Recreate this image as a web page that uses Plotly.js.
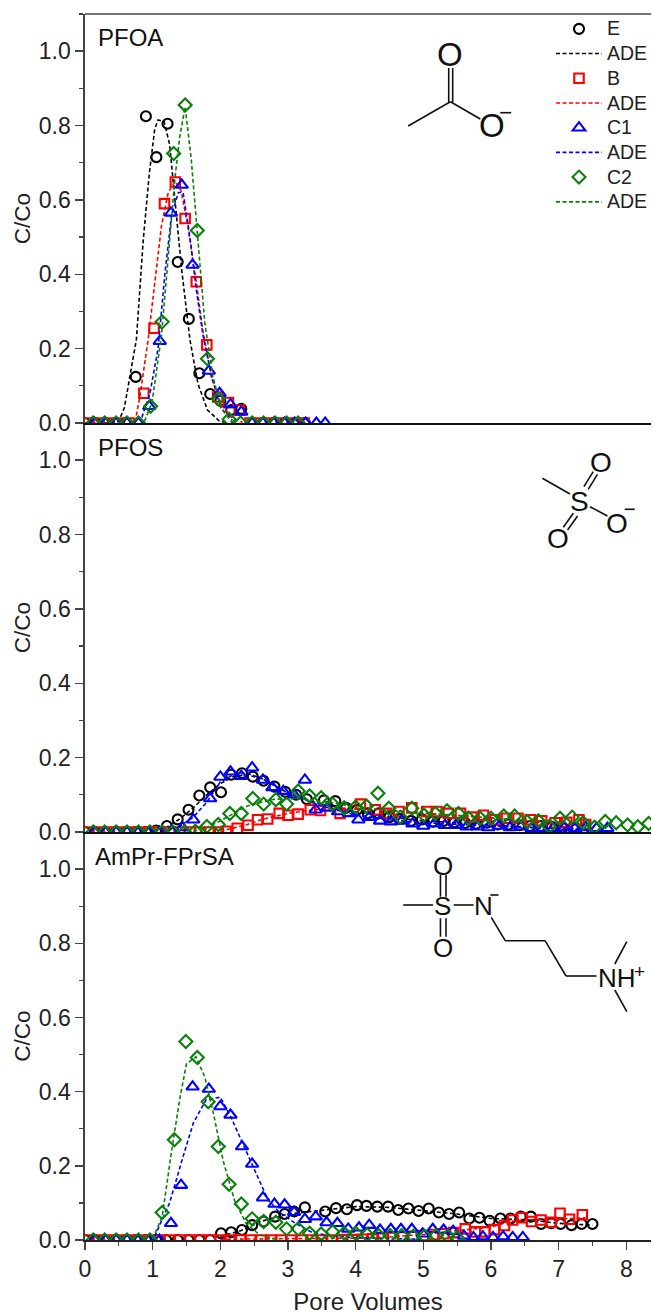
<!DOCTYPE html>
<html><head><meta charset="utf-8">
<script src="https://cdn.plot.ly/plotly-3.0.1.min.js"></script>
<style>html,body{margin:0;padding:0;background:#fff}</style></head>
<body><div id="chart" style="width:653px;height:1315px"></div>
<script>
// Data: [pore volumes, C/Co]
const pfoaE=[[0,0],[.15,0],[.3,0],[.45,0],[.6,0],[.75,.124],[.9,.825],[1.055,.715],[1.22,.805],[1.37,.433],[1.535,.28],[1.69,.134],[1.85,.078],[2,.06],[2.16,.035],[2.31,.038],[2.47,0],[2.63,0],[2.79,0],[2.95,0],[3.1,0],[3.25,0]];
const pfoaB=[[.05,0],[.2,0],[.35,0],[.5,0],[.65,0],[.87,.08],[1.02,.255],[1.175,.59],[1.335,.648],[1.48,.55],[1.645,.38],[1.8,.21],[1.96,.07],[2.12,.055],[2.28,.035],[2.44,0],[2.6,0],[2.76,0],[2.92,0],[3.08,0],[3.24,0]];
const pfoaC1=[[.14,0],[.3,0],[.46,0],[.62,0],[.79,0],[.95,.045],[1.105,.22],[1.27,.565],[1.43,.64],[1.59,.425],[1.83,.14],[1.99,.08],[2.15,.05],[2.31,.03],[2.47,0],[2.63,0],[2.79,0],[2.95,0],[3.1,0],[3.26,0],[3.42,0],[3.55,0]];
const pfoaC2=[[.12,0],[.29,0],[.46,0],[.62,0],[.79,0],[.97,.045],[1.14,.272],[1.31,.725],[1.48,.855],[1.66,.518],[1.81,.173],[1.97,.065],[2.13,.01],[2.3,0],[2.47,0],[2.64,0],[2.81,0],[2.98,0],[3.15,0]];
const pfoaEfit=[[0,0],[.45,0],[.5,.005],[.58,.04],[.62,.08],[.76,.225],[.86,.49],[.95,.67],[1.03,.79],[1.08,.815],[1.17,.81],[1.25,.75],[1.34,.58],[1.43,.41],[1.55,.225],[1.67,.105],[1.81,.035],[1.98,.006],[2.1,0]];
const pfoaBfit=[[.74,.003],[.81,.07],[.93,.22],[1.03,.37],[1.13,.53],[1.23,.62],[1.33,.65],[1.42,.625],[1.52,.53],[1.64,.385],[1.74,.25],[1.87,.125],[2.01,.05],[2.18,.012],[2.33,.002]];
const pfoaC1fit=[[.84,.015],[.96,.08],[1.08,.2],[1.18,.4],[1.28,.56],[1.38,.62],[1.45,.62],[1.55,.5],[1.64,.365],[1.74,.24],[1.87,.125],[2.01,.04],[2.18,.007]];
const pfoaC2fit=[[.88,.005],[.99,.055],[1.13,.235],[1.23,.45],[1.33,.66],[1.4,.77],[1.48,.85],[1.57,.71],[1.67,.5],[1.77,.27],[1.89,.125],[2.01,.04],[2.18,0]];

const pfosE=[[0,0],[.15,0],[.3,0],[.45,0],[.6,0],[.75,0],[.9,0],[1.05,.004],[1.21,.016],[1.37,.034],[1.53,.06],[1.69,.098],[1.85,.12],[2.01,.107],[2.16,.154],[2.32,.158],[2.48,.149],[2.64,.138],[2.8,.122],[2.96,.108],[3.12,.1],[3.28,.088],[3.53,.085],[3.7,.083],[3.86,.065],[4.02,.06],[4.18,.05],[4.34,.05],[4.5,.04],[4.66,.035],[4.82,.03],[4.98,.034],[5.14,.028],[5.3,.03],[5.46,.026],[5.62,.024],[5.78,.022],[5.94,.025],[6.1,.02],[6.26,.02],[6.42,.018],[6.58,.016],[6.74,.016],[6.9,.014],[7.06,.012],[7.22,.012],[7.38,.01]];
const pfosB=[[.05,0],[.2,0],[.35,0],[.5,0],[.65,0],[.8,0],[.95,0],[1.1,0],[1.25,0],[1.4,0],[1.55,0],[1.7,0],[1.85,0],[1.97,0],[2.09,.002],[2.25,.01],[2.41,.018],[2.55,.033],[2.7,.035],[2.87,.05],[3,.045],[3.15,.048],[3.33,.06],[3.48,.058],[3.77,.05],[4.07,.075],[4.29,.06],[4.46,.05],[4.64,.055],[4.83,.065],[5.05,.055],[5.2,.055],[5.37,.05],[5.55,.05],[5.72,.04],[5.89,.045],[6.06,.033],[6.23,.037],[6.4,.037],[6.58,.033],[6.75,.03],[6.95,.025],[7.12,.026],[7.3,.033],[7.4,.02]];
const pfosC1=[[.14,0],[.3,0],[.46,0],[.62,0],[.79,0],[.95,0],[1.1,0],[1.28,.004],[1.44,.012],[1.6,.033],[1.85,.09],[2,.148],[2.15,.162],[2.31,.15],[2.47,.173],[2.63,.14],[2.77,.12],[2.93,.11],[3.09,.1],[3.25,.14],[3.41,.06],[3.58,.065],[3.74,.055],[3.9,.05],[4.04,.033],[4.2,.04],[4.36,.03],[4.52,.028],[4.68,.03],[4.84,.022],[5,.016],[5.16,.022],[5.32,.018],[5.48,.018],[5.64,.014],[5.8,.014],[5.96,.012],[6.12,.016],[6.28,.012],[6.44,.014],[6.6,.01],[6.76,.01],[6.92,.01],[7.08,.012],[7.24,.01],[7.4,.012],[7.56,.01],[7.72,.01]];
const pfosC2=[[.12,0],[.29,0],[.46,0],[.62,0],[.79,0],[.96,0],[1.14,0],[1.3,0],[1.47,0],[1.63,.002],[1.8,.015],[1.97,.02],[2.14,.05],[2.31,.05],[2.48,.09],[2.64,.075],[2.82,.087],[2.98,.075],[3.15,.11],[3.32,.097],[3.49,.092],[3.66,.075],[3.83,.065],[4,.067],[4.16,.07],[4.33,.104],[4.49,.064],[4.66,.04],[4.83,.064],[5.01,.046],[5.18,.05],[5.35,.057],[5.52,.05],[5.67,.037],[5.84,.037],[6,.037],[6.19,.043],[6.35,.043],[6.53,.028],[6.7,.03],[6.86,.015],[7.02,.037],[7.2,.04],[7.36,.025],[7.53,.013],[7.69,.028],[7.85,.025],[8.02,.019],[8.17,.014],[8.33,.023]];
const pfosEfit=[[1,.002],[1.2,.012],[1.4,.035],[1.6,.065],[1.8,.1],[2,.13],[2.2,.15],[2.4,.153],[2.6,.145],[2.8,.125],[3,.105],[3.2,.09],[3.5,.075],[4,.055],[4.5,.04],[5,.03],[5.5,.024],[6,.018],[6.5,.013],[7,.009],[7.5,.006]];
const pfosBfit=[[2,.002],[2.2,.01],[2.4,.02],[2.6,.033],[2.8,.042],[3,.05],[3.3,.058],[3.6,.063],[4,.063],[4.5,.058],[5,.05],[5.5,.045],[6,.038],[6.5,.03],[7,.024],[7.4,.018]];
const pfosC1fit=[[1.2,.003],[1.4,.015],[1.6,.04],[1.8,.08],[2,.135],[2.2,.155],[2.4,.158],[2.6,.145],[2.8,.125],[3,.105],[3.2,.09],[3.5,.07],[4,.045],[4.5,.033],[5,.025],[5.5,.02],[6,.015],[6.5,.012],[7,.01],[7.5,.008]];
const pfosC2fit=[[1.6,.002],[1.8,.012],[2,.03],[2.2,.05],[2.4,.07],[2.6,.08],[2.8,.088],[3,.09],[3.3,.088],[3.6,.08],[4,.068],[4.5,.058],[5,.05],[5.5,.045],[6,.037],[6.5,.032],[7,.028],[7.5,.022]];

const amprE=[[0,0],[.15,0],[.3,0],[.45,0],[.6,0],[.75,0],[.9,0],[1.05,0],[1.2,0],[1.37,0],[1.53,0],[1.69,0],[1.85,0],[2.01,.018],[2.16,.021],[2.32,.027],[2.47,.04],[2.64,.05],[2.81,.063],[2.95,.07],[3.09,.077],[3.25,.088],[3.55,.077],[3.71,.086],[3.87,.083],[4.02,.094],[4.16,.092],[4.32,.09],[4.48,.09],[4.63,.081],[4.78,.085],[4.93,.078],[5.08,.085],[5.23,.074],[5.38,.07],[5.53,.074],[5.68,.058],[5.83,.06],[5.98,.052],[6.14,.058],[6.29,.058],[6.44,.063],[6.59,.063],[6.74,.043],[6.89,.045],[7.03,.043],[7.19,.04],[7.34,.043],[7.5,.043]];
const amprB=[[.05,0],[.2,0],[.35,0],[.5,0],[.65,0],[.8,0],[.95,0],[1.1,0],[1.25,0],[1.4,0],[1.55,0],[1.7,0],[1.85,0],[2,0],[2.15,0],[2.3,0],[2.45,0],[2.6,0],[2.75,0],[2.9,0],[3.05,0],[3.2,0],[3.35,0],[3.5,0],[3.65,0],[3.8,.001],[3.95,.001],[4.1,.002],[4.25,.003],[4.4,.005],[4.55,.007],[4.7,.008],[4.85,.01],[5,.012],[5.15,.015],[5.3,.017],[5.45,.02],[5.62,.03],[5.77,.022],[5.91,.022],[6.05,.028],[6.2,.039],[6.32,.054],[6.46,.06],[6.6,.05],[6.74,.054],[6.89,.048],[7.02,.072],[7.16,.056],[7.35,.068]];
const amprC1=[[.14,0],[.3,0],[.46,0],[.62,0],[.79,0],[.95,0],[1.1,0],[1.27,.045],[1.42,.148],[1.59,.413],[1.83,.407],[2,.36],[2.15,.337],[2.32,.252],[2.47,.205],[2.63,.114],[2.8,.097],[2.95,.095],[3.09,.075],[3.25,.056],[3.41,.063],[3.57,.047],[3.73,.045],[3.89,.03],[4.05,.033],[4.2,.04],[4.36,.027],[4.52,.029],[4.67,.029],[4.83,.029],[4.99,.017],[5.14,.029],[5.3,.027],[5.44,.024],[5.6,.011],[5.74,.007],[5.88,.009],[6.03,.007],[6.18,.009],[6.32,.007],[6.47,.007]];
const amprC2=[[.12,0],[.29,0],[.46,0],[.62,0],[.79,0],[.96,0],[1.14,.074],[1.32,.27],[1.49,.535],[1.66,.492],[1.82,.373],[1.97,.252],[2.13,.15],[2.31,.097],[2.47,.057],[2.64,.05],[2.82,.048],[2.98,.03],[3.15,.03],[3.32,.018],[3.49,.016],[3.66,.022],[3.83,.018],[4,.018],[4.17,.014],[4.34,.012],[4.51,.012],[4.68,.012],[4.85,.01],[5.02,.01],[5.19,.012],[5.36,.01],[5.5,.006]];
const amprEfit=[[2,.01],[2.3,.025],[2.6,.05],[3,.07],[3.5,.08],[4,.09],[4.5,.088],[5,.08],[5.5,.07],[6,.058],[6.5,.055],[7,.045],[7.5,.04]];
const amprBfit=[[2,.002],[3,.003],[4,.005],[4.5,.008],[5,.015],[5.5,.025],[6,.035],[6.3,.05],[6.5,.055],[7,.056],[7.4,.06]];
const amprC1fit=[[1.03,.01],[1.25,.1],[1.45,.225],[1.6,.315],[1.79,.378],[2,.385],[2.16,.33],[2.33,.26],[2.53,.18],[2.7,.11],[2.87,.075],[3.11,.045],[3.36,.02],[3.6,.012],[4,.006],[4.5,.004],[5,.002]];
const amprC2fit=[[1,.003],[1.14,.062],[1.28,.24],[1.4,.38],[1.5,.475],[1.64,.494],[1.77,.44],[1.9,.34],[2.04,.215],[2.21,.107],[2.38,.045],[2.58,.014],[2.87,.001]];

const seriesNames=['E','B','C1','C2'];
const seriesColors=['#000000','#ff0000','#0000ff','#0a800a'];
const seriesSymbols=['circle-open','square-open','triangle-up-open','diamond-open'];
const seriesSizes=[10,9.5,11,10];
const xTicks=[0,1,2,3,4,5,6,7,8];
const yTicks=[0,.2,.4,.6,.8,1];
const yTickText=['0.0','0.2','0.4','0.6','0.8','1.0'];
const panels=[
 {name:'PFOA',ax:'3',pts:[pfoaE,pfoaB,pfoaC1,pfoaC2],fit:[pfoaEfit,pfoaBfit,pfoaC1fit,pfoaC2fit]},
 {name:'PFOS',ax:'2',pts:[pfosE,pfosB,pfosC1,pfosC2],fit:[pfosEfit,pfosBfit,pfosC1fit,pfosC2fit]},
 {name:'AmPr-FPrSA',ax:'',pts:[amprE,amprB,amprC1,amprC2],fit:[amprEfit,amprBfit,amprC1fit,amprC2fit]}
];

const FONT='"Liberation Sans",Arial,sans-serif', TXT='#222', AX='#444';
const traces=[];
panels.forEach((p,pi)=>{
 seriesNames.forEach((n,i)=>{
  traces.push({type:'scatter',mode:'lines',x:p.fit[i].map(d=>d[0]),y:p.fit[i].map(d=>d[1]),xaxis:'x'+p.ax,yaxis:'y'+p.ax,
   name:'<span style="font-size:19.5px">ADE</span>',legendrank:(i+1)*10+1,showlegend:pi===0,line:{color:seriesColors[i],width:1.6,dash:'4px,2.5px'}});
  traces.push({type:'scatter',mode:'markers',x:p.pts[i].map(d=>d[0]),y:p.pts[i].map(d=>d[1]),xaxis:'x'+p.ax,yaxis:'y'+p.ax,
   name:'<span style="font-size:19.5px">'+n+'</span>',legendrank:(i+1)*10,showlegend:pi===0,
   marker:{symbol:seriesSymbols[i],size:seriesSizes[i],color:seriesColors[i],line:{color:seriesColors[i],width:2.1}}});
 });
});

// pixel helpers for the decorations (panel labels, molecule sketches)
const L=85,R=653,T=14,B=1240;
const px=x=>(x-L)/(R-L), py=y=>(B-y)/(B-T);
const seg=(x0,y0,x1,y1,w)=>({type:'line',xref:'paper',yref:'paper',x0:px(x0),y0:py(y0),x1:px(x1),y1:py(y1),line:{color:'#111',width:w||1.6}});
const txt=(x,y,t,s,anchor)=>({xref:'paper',yref:'paper',x:px(x),y:py(y),text:t,showarrow:false,xanchor:anchor||'center',yanchor:'middle',font:{family:FONT,size:s,color:'#111'},borderpad:0,borderwidth:0});
const shapes=[
 seg(409.3,126,451.7,101.7),seg(450,102,450,68),seg(454,102,454,68),seg(451.7,101.7,481.7,119),seg(501.7,112.7,512.7,112.7),
 seg(544,478.3,571.7,494),seg(585.7,486.7,595,471.7),seg(590,489.3,599.3,474.3),seg(575,513.3,565,527.3),seg(579.3,516,569.3,530),seg(591.7,506.7,609.3,516),seg(626.7,509.3,636.7,509.3),
 seg(404.3,905,434.3,905),seg(441.7,875,441.7,896.7),seg(447.3,875,447.3,896.7),seg(441.7,918.3,441.7,936.7),seg(447.3,918.3,447.3,936.7),seg(455,905,475,905),seg(491.7,895,500,895),
 seg(492.7,917.3,506.7,940.7),seg(506.7,940.7,546.7,940.7),seg(546.7,940.7,567.7,976),seg(567.7,976,598.3,976),seg(616.7,964,628.7,941.7),seg(616.7,990,628.7,1011.7)
];
const annotations=[
 txt(98,37,'PFOA',24,'left'),txt(98,448,'PFOS',24,'left'),txt(95,856,'AmPr-FPrSA',24,'left'),
 txt(451,55,'O',33),txt(493,126,'O',33),
 txt(603.3,462.7,'O',28),txt(560,538.3,'O',28),txt(581.7,501.7,'S',28),txt(619.3,523.3,'O',28),
 txt(444,865.7,'O',26),txt(444,947.7,'O',26),txt(444,905.7,'S',26),txt(485,906,'N',26),txt(619,978,'NH',26),txt(641,971,'+',19)
];

const xBase={range:[0,8.365],autorange:false,showgrid:false,zeroline:false,showline:true,fixedrange:true};
const yBase=(dom,anchor)=>({domain:dom,anchor:anchor,range:[0,1.1],autorange:false,showgrid:false,zeroline:false,showline:true,linecolor:AX,linewidth:1.6,
 tickmode:'array',tickvals:yTicks,ticktext:yTickText,ticks:'outside',ticklen:8,tickwidth:1.5,tickcolor:AX,
 minor:{dtick:.1,tick0:0,ticks:'outside',ticklen:4,tickwidth:1.3,tickcolor:AX,showgrid:false},
 tickfont:{family:FONT,size:23,color:TXT},title:{text:'C/Co',font:{family:FONT,size:22.5,color:TXT},standoff:2},fixedrange:true});
const H=B-T;
const layout={width:653,height:1315,margin:{l:L,r:0,t:T,b:1315-B,pad:0},paper_bgcolor:'#fff',plot_bgcolor:'rgba(0,0,0,0)',showlegend:true,hovermode:false,
 font:{family:FONT,color:TXT},
 legend:{x:px(553),y:py(11.5),xanchor:'left',yanchor:'top',bgcolor:'rgba(0,0,0,0)',borderwidth:0,font:{family:FONT,size:16.7,color:TXT},itemwidth:46,tracegroupgap:0,traceorder:'normal',itemclick:false,itemdoubleclick:false},
 xaxis:Object.assign({},xBase,{anchor:'y',linecolor:'#222',linewidth:1.5,tickmode:'array',tickvals:xTicks,ticks:'outside',ticklen:8,tickwidth:1.5,tickcolor:AX,
  minor:{dtick:.5,tick0:0,ticks:'outside',ticklen:4,tickwidth:1.3,tickcolor:AX,showgrid:false},
  tickfont:{family:FONT,size:23,color:TXT},title:{text:'Pore Volumes',font:{family:FONT,size:24,color:TXT},standoff:12}}),
 xaxis2:Object.assign({},xBase,{anchor:'y2',linecolor:'#111',linewidth:2.2,showticklabels:false,ticks:''}),
 xaxis3:Object.assign({},xBase,{anchor:'y3',linecolor:'#111',linewidth:2.2,showticklabels:false,ticks:''}),
 yaxis:yBase([0,(B-832)/H],'x'),
 yaxis2:yBase([(B-832)/H,(B-423)/H],'x2'),
 yaxis3:yBase([(B-423)/H,1],'x3'),
 shapes:shapes.concat([{type:'line',xref:'paper',yref:'paper',x0:0,x1:1,y0:1,y1:1,line:{color:AX,width:1.6}}]),
 annotations:annotations
};
Plotly.newPlot('chart',traces,layout,{displayModeBar:false,staticPlot:true});
</script></body></html>
